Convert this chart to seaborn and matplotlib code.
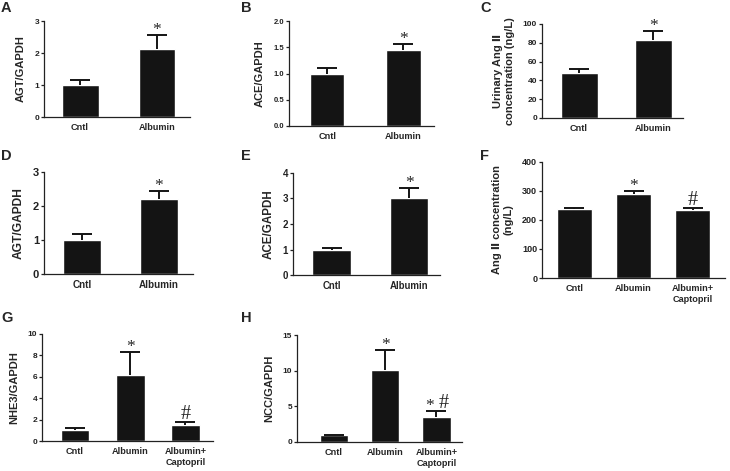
import numpy as np
import pandas as pd
import matplotlib
matplotlib.use("Agg")
import matplotlib.pyplot as plt
import seaborn as sns

# data
two_groups = ["Cntl", "Albumin"]
three_groups = ["Cntl", "Albumin", "Albumin+\nCaptopril"]

agt_kidney = [1.0, 2.12]
agt_kidney_err = [0.15, 0.45]
ace_kidney = [1.0, 1.45]
ace_kidney_err = [0.10, 0.12]
urinary_ang = [48, 83]
urinary_ang_err = [4, 10]
agt_cells = [1.0, 2.2]
agt_cells_err = [0.17, 0.25]
ace_cells = [1.0, 3.0]
ace_cells_err = [0.07, 0.42]
ang_conc = [238, 290, 235]
ang_conc_err = [3, 10, 7]
nhe3 = [1.0, 6.15, 1.5]
nhe3_err = [0.2, 2.2, 0.32]
ncc = [1.0, 10.1, 3.5]
ncc_err = [0.05, 2.8, 0.85]

sns.set_style("ticks")
plt.rcParams["font.family"] = ["Liberation Sans", "DejaVu Sans"]
plt.rcParams["font.weight"] = "bold"

W, H = 730, 471
fig = plt.figure(figsize=(W / 100, H / 100), dpi=100)
BAR = "#141414"
SERIF = ["Liberation Serif", "DejaVu Serif"]


def panel(box, letter, letter_xy, cats, means, errs, marks, ylabel, ylim, yticks,
          fmt, xlim, width, ytick_size=6, scale=1.0):
    l, t, r, b = box
    ax = fig.add_axes([l / W, 1 - b / H, (r - l) / W, (b - t) / H])
    df = pd.DataFrame({"group": cats, "value": means})
    sns.barplot(data=df, x="group", y="value", color=BAR, saturation=1,
                width=width, errorbar=None, ax=ax)
    # upper-only error bars, GraphPad style
    x = np.arange(len(cats))
    tops = np.array(means) + np.array(errs)
    ax.vlines(x, means, tops, color=BAR, linewidth=1.4, zorder=3)
    ax.plot(x, tops, ls="none", marker="_", markersize=15, markeredgewidth=1.4,
            color=BAR, zorder=3, clip_on=False)
    for i, m in enumerate(marks):
        if not m:
            continue
        # '*' and '#' drawn as separate glyphs so '#' can be a bit larger
        parts = list(m)
        offs = [0.0] if len(parts) == 1 else [-5.0, 5.0]
        for p, dx in zip(parts, offs):
            ax.annotate(p, (i, tops[i]), xytext=(dx, -2.5 if p == "*" else -1.5),
                        textcoords="offset points", ha="center", va="bottom",
                        fontsize=12.5 if p == "*" else 14.5,
                        fontweight="normal", family=SERIF)
    ax.set_ylim(*ylim)
    ax.set_xlim(*xlim)
    ax.set_yticks(yticks)
    ax.set_yticklabels([fmt.format(v) for v in yticks], fontsize=ytick_size,
                       fontweight="bold")
    ax.tick_params(axis="y", length=2.5, width=0.9, pad=1, colors="#222222")
    ax.tick_params(axis="x", length=0, pad=4.5, labelsize=6.6 * scale)
    for lab in ax.get_xticklabels():
        lab.set_fontweight("bold")
    ax.set_xlabel("")
    ax.set_ylabel(ylabel, fontsize=8 * scale, fontweight="bold", labelpad=6)
    sns.despine(ax=ax)
    for s in ("left", "bottom"):
        ax.spines[s].set_linewidth(0.9)
        ax.spines[s].set_color("#222222")
    fig.text(letter_xy[0] / W, 1 - letter_xy[1] / H, letter, fontsize=10.5,
             fontweight="bold", va="top", ha="left")
    return ax


panel((44, 21, 190, 117), "A", (1, 1), two_groups, agt_kidney, agt_kidney_err,
      ["", "*"], "AGT/GAPDH", (0, 3), [0, 1, 2, 3], "{:.0f}", (-0.47, 1.43), 0.48)
panel((289, 21, 434, 126), "B", (241, 1), two_groups, ace_kidney, ace_kidney_err,
      ["", "*"], "ACE/GAPDH", (0, 2), [0, 0.5, 1.0, 1.5, 2.0], "{:.1f}",
      (-0.5, 1.4), 0.45, ytick_size=5.5)
panel((542, 24, 683, 118), "C", (480, 1), two_groups, urinary_ang, urinary_ang_err,
      ["", "*"], "Urinary Ang \u2161\nconcentration (ng/L)", (0, 100),
      [0, 20, 40, 60, 80, 100], "{:.0f}", (-0.5, 1.4), 0.5)
panel((44, 172, 193, 274), "D", (1, 149), two_groups, agt_cells, agt_cells_err,
      ["", "*"], "AGT/GAPDH", (0, 3), [0, 1, 2, 3], "{:.0f}", (-0.5, 1.45), 0.5,
      ytick_size=8, scale=1.08)
panel((293, 173, 440, 275), "E", (241, 149), two_groups, ace_cells, ace_cells_err,
      ["", "*"], "ACE/GAPDH", (0, 4), [0, 1, 2, 3, 4], "{:.0f}", (-0.5, 1.4), 0.5,
      ytick_size=7, scale=1.05)
panel((542, 162, 725, 278), "F", (480, 149), three_groups, ang_conc, ang_conc_err,
      ["", "*", "#"], "Ang \u2161 concentration\n(ng/L)", (0, 400),
      [0, 100, 200, 300, 400], "{:.0f}", (-0.55, 2.55), 0.58, ytick_size=6.5)
panel((42, 334, 213, 441), "G", (1, 311), three_groups, nhe3, nhe3_err,
      ["", "*", "#"], "NHE3/GAPDH", (0, 10), [0, 2, 4, 6, 8, 10], "{:.0f}",
      (-0.6, 2.5), 0.52)
panel((297, 335, 462, 442), "H", (241, 311), three_groups, ncc, ncc_err,
      ["", "*", "*#"], "NCC/GAPDH", (0, 15), [0, 5, 10, 15], "{:.0f}",
      (-0.72, 2.5), 0.56)

fig.savefig("out.png", dpi=100)
